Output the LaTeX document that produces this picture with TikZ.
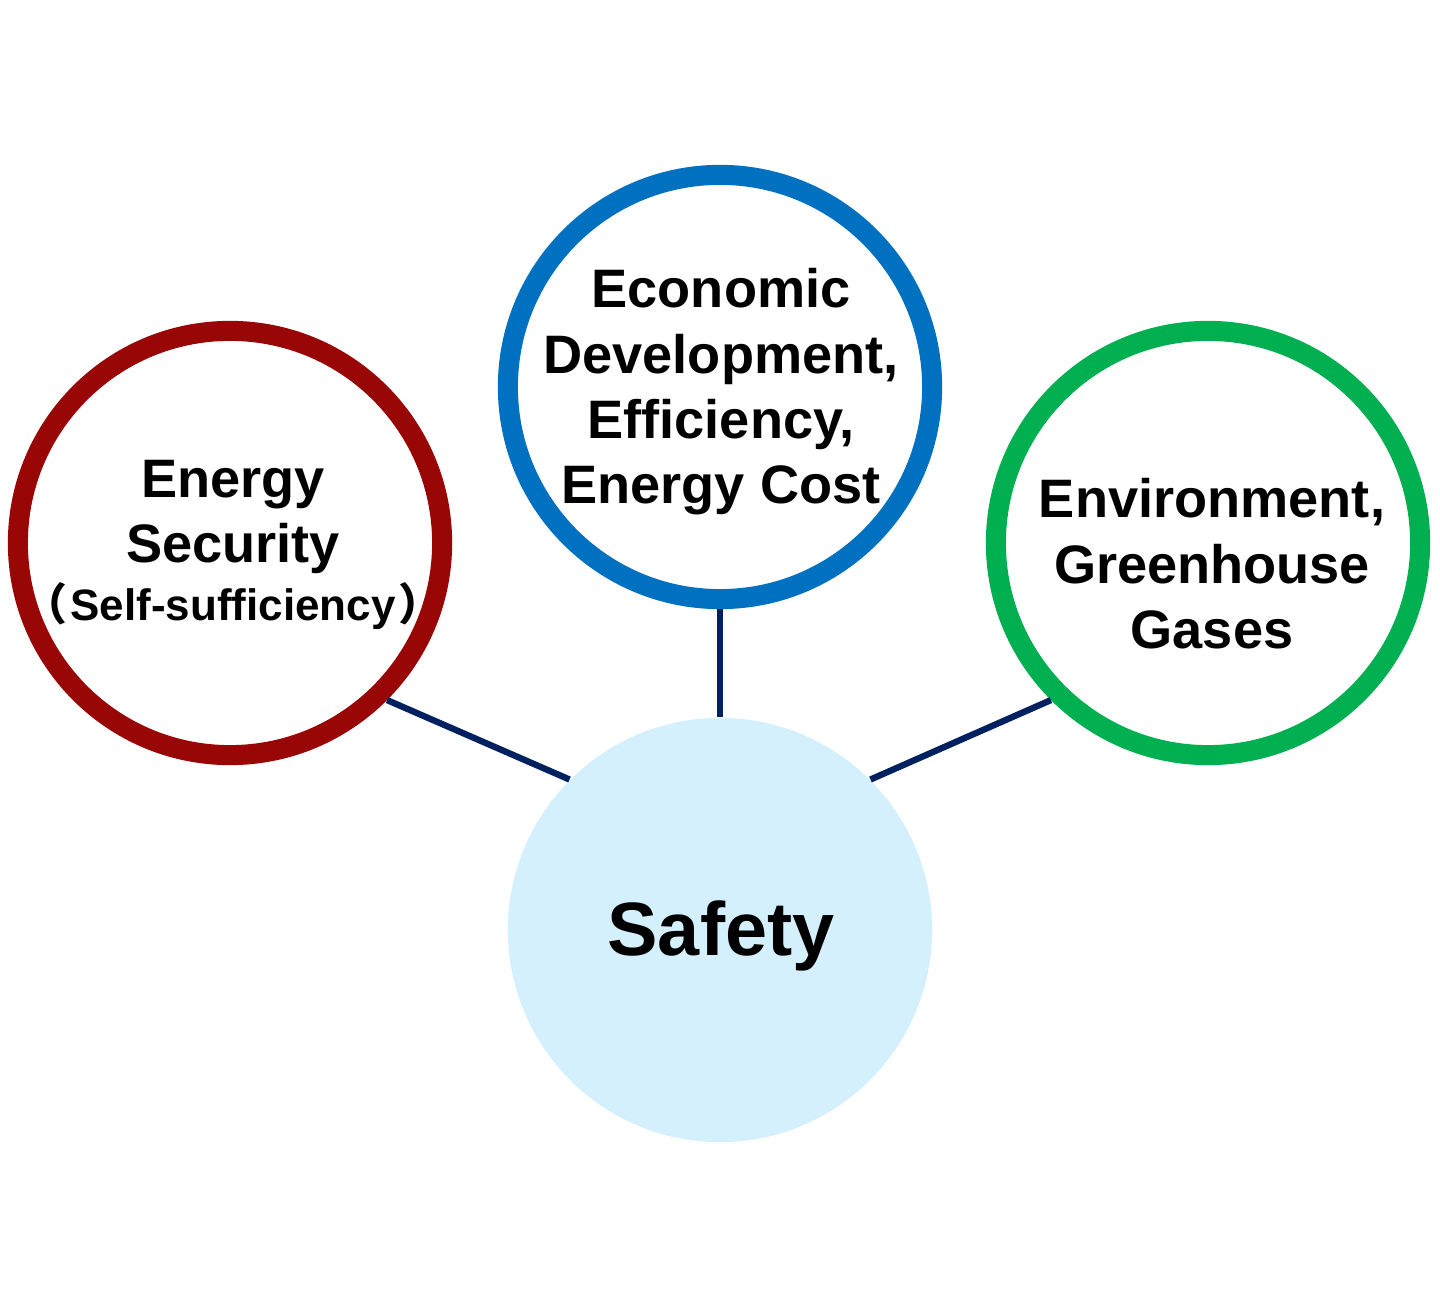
\documentclass[tikz,border=0pt]{standalone}
\usepackage{fontspec}
\setmainfont{Liberation Sans}
\newfontfamily\cjk{Noto Sans CJK JP}
\definecolor{ringred}{HTML}{990606}
\definecolor{ringblue}{HTML}{0070C0}
\definecolor{ringgreen}{HTML}{00B050}
\definecolor{linknavy}{HTML}{002060}
\definecolor{safefill}{HTML}{D5F0FD}
\tikzset{
  ring/.style={circle,draw=#1,line width=5.7pt,minimum size=4.24cm,inner sep=0pt},
  ringtext/.style={align=center,inner sep=0pt,font=\fontsize{15.4}{18.6}\selectfont\bfseries},
  link/.style={draw=linknavy,line width=1.8pt}
}
\begin{document}
\begin{tikzpicture}[x=0.01cm,y=-0.01cm]
  \useasboundingbox (0,0) rectangle (1440,1307);

  \node[circle,fill=safefill,minimum size=4.24cm,inner sep=0pt] (safety) at (720,930) {};
  \node[font=\fontsize{21.5}{24}\selectfont\bfseries] (safetytext) at (721,936) {Safety};

  \node[ring=ringred] (security) at (230,543) {};
  \node[ringtext] (securitytext) at (233,545)
    {Energy\\Security\\[-2pt]{\fontsize{12.5}{14}\selectfont{\cjk （}\kern0.8pt Self-sufficiency\kern0.8pt{\cjk ）}}};
  \node[ring=ringblue] (economy) at (720,387) {};
  \node[ringtext] (economytext) at (721,392)
    {Economic\\Development,\\Efficiency,\\Energy Cost};
  \node[ring=ringgreen] (environment) at (1208,543) {};
  \node[ringtext] (environmenttext) at (1212,564)
    {Environment,\\Greenhouse\\Gases};

  \draw[link] (security.-45) -- (safety.135);
  \draw[link] (economy.south) -- (safety.north);
  \draw[link] (environment.225) -- (safety.45);
\end{tikzpicture}
\end{document}
